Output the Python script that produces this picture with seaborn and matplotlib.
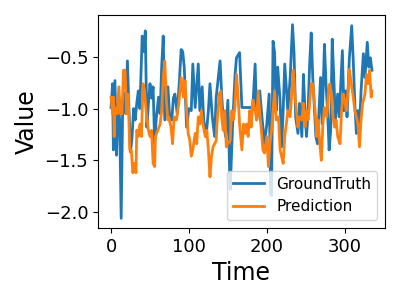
import matplotlib
matplotlib.use("Agg")
import matplotlib.pyplot as plt
import seaborn as sns

gt_time = [0, 2, 3, 5, 7, 9, 11, 13, 15, 17, 19, 21, 23, 25, 27, 29, 31, 33, 35, 37,
           40, 42, 44, 46, 48, 50, 52, 54, 56, 58, 61, 63, 65, 67, 69, 71, 73, 75, 78, 80,
           82, 85, 88, 90, 92, 94, 97, 100, 103, 105, 108, 112, 114, 117, 119, 122, 125, 127, 130, 133,
           135, 140, 142, 144, 147, 150, 152, 153, 156, 159, 161, 165, 168, 182, 185, 187, 189, 191, 193, 197,
           200, 203, 205, 206, 208, 210, 212, 214, 217, 219, 221, 223, 225, 227, 230, 233, 235, 237, 240, 242,
           245, 247, 249, 251, 253, 255, 257, 259, 263, 265, 267, 269, 271, 274, 276, 278, 280, 282, 284, 286,
           288, 291, 293, 295, 297, 299, 301, 303, 306, 309, 311, 313, 315, 317, 319, 321, 324, 326, 329, 331,
           333, 335]
gt_vals = [-0.99, -0.76, -1.40, -0.73, -1.45, -0.95, -1.10, -2.06, -0.95, -0.85, -1.05, -0.54, -1.00, -1.42, -1.27, -1.00, -1.11, -0.95, -0.83, -1.00,
           -0.30, -0.45, -0.25, -1.18, -0.95, -0.76, -0.90, -0.79, -1.34, -1.10, -0.89, -1.05, -0.60, -0.30, -1.11, -0.95, -0.79, -1.05, -1.11, -0.90,
           -0.86, -1.05, -0.70, -0.43, -0.45, -0.60, -1.18, -1.00, -1.02, -0.57, -0.99, -0.57, -1.02, -0.79, -1.11, -1.27, -1.02, -0.76, -1.08, -1.27,
           -0.89, -0.54, -0.86, -1.11, -1.27, -0.92, -1.53, -1.78, -1.18, -0.70, -0.51, -0.46, -0.99, -0.99, -0.57, -1.11, -1.02, -0.83, -1.02, -1.34,
           -1.15, -0.86, -1.82, -1.84, -0.35, -0.46, -1.02, -0.60, -0.92, -1.37, -1.02, -0.57, -0.79, -1.02, -0.70, -0.19, -0.47, -1.08, -1.24, -0.95,
           -1.27, -0.67, -1.02, -1.27, -1.02, -0.57, -0.27, -0.70, -1.27, -1.34, -1.02, -0.70, -1.15, -0.38, -0.76, -1.02, -1.40, -1.21, -0.33, -0.70,
           -1.11, -0.86, -1.08, -0.76, -0.44, -1.02, -0.83, -1.08, -0.51, -0.20, -0.54, -0.95, -1.24, -1.02, -1.18, -0.83, -0.47, -0.70, -0.36, -0.60,
           -0.51, -0.63]

# prediction (time step, value)
pred_time = [0, 2, 3, 4, 5, 8, 10, 12, 14, 16, 18, 20, 22, 24, 26, 28, 30, 32, 33, 35,
             37, 39, 41, 43, 45, 48, 50, 52, 54, 56, 57, 60, 63, 65, 67, 69, 71, 73, 74, 77,
             79, 81, 84, 87, 90, 93, 95, 97, 99, 101, 103, 105, 108, 110, 112, 114, 116, 118, 121, 123,
             125, 127, 129, 131, 135, 136, 139, 141, 142, 144, 146, 148, 150, 153, 155, 157, 159, 161, 163, 165,
             168, 170, 172, 174, 176, 178, 180, 182, 185, 187, 189, 191, 193, 195, 197, 200, 202, 204, 206, 208,
             210, 212, 215, 217, 219, 221, 223, 225, 227, 230, 232, 234, 236, 238, 240, 242, 245, 247, 249, 251,
             253, 255, 257, 259, 262, 264, 266, 268, 270, 272, 274, 277, 279, 281, 283, 285, 287, 289, 291, 294,
             296, 298, 300, 302, 304, 306, 309, 311, 313, 315, 317, 319, 321, 323, 326, 328, 330, 332, 334, 335]
pred_vals = [-0.89, -1.05, -0.89, -1.27, -0.99, -1.05, -0.79, -1.05, -1.05, -0.63, -0.63, -1.05, -0.86, -1.40, -1.40, -1.62, -1.53, -1.62, -1.21, -1.27,
             -1.15, -1.27, -0.76, -0.83, -1.02, -1.21, -1.27, -1.21, -1.53, -1.56, -1.27, -1.21, -1.15, -1.02, -0.70, -0.54, -0.92, -1.11, -1.08, -1.18,
             -1.34, -1.08, -1.11, -0.95, -0.70, -0.89, -0.73, -1.02, -1.24, -1.30, -1.46, -1.40, -1.24, -1.34, -1.08, -1.15, -1.02, -1.15, -1.27, -1.21,
             -1.40, -1.66, -1.46, -1.37, -1.31, -1.15, -0.86, -0.83, -1.08, -1.21, -1.02, -1.37, -1.34, -1.31, -1.02, -1.11, -0.99, -0.67, -0.86, -1.15,
             -1.40, -1.15, -1.24, -1.15, -1.27, -1.02, -1.18, -0.92, -1.02, -1.11, -0.83, -1.05, -1.21, -1.40, -1.43, -1.27, -1.56, -1.34, -1.21, -1.02,
             -0.83, -1.11, -1.08, -1.40, -1.46, -1.53, -1.27, -1.15, -1.02, -1.08, -0.86, -0.63, -0.86, -1.02, -1.18, -1.08, -1.11, -0.95, -1.18, -1.02,
             -1.11, -0.95, -0.76, -0.76, -1.02, -1.27, -1.11, -1.34, -1.50, -1.15, -0.99, -1.08, -0.86, -0.76, -0.89, -1.08, -1.18, -1.11, -1.27, -1.34,
             -1.02, -0.86, -0.92, -1.02, -0.86, -0.62, -0.79, -0.89, -1.02, -1.08, -1.15, -1.37, -1.11, -0.95, -0.86, -0.67, -0.76, -0.63, -0.89, -0.83]

fig, ax = plt.subplots(figsize=(4, 3), dpi=100)
sns.lineplot(x=gt_time, y=gt_vals, ax=ax, color='tab:blue', linewidth=2, label='GroundTruth')
sns.lineplot(x=pred_time, y=pred_vals, ax=ax, color='tab:orange', linewidth=2, label='Prediction')

ax.set_xlabel('Time', fontsize=17)
ax.set_ylabel('Value', fontsize=17)
ax.tick_params(labelsize=13)
ax.legend(loc='lower right', fontsize=11)

fig.subplots_adjust(left=0.245, right=0.9625, bottom=0.24, top=0.95)
fig.savefig('out.png', dpi=100)
